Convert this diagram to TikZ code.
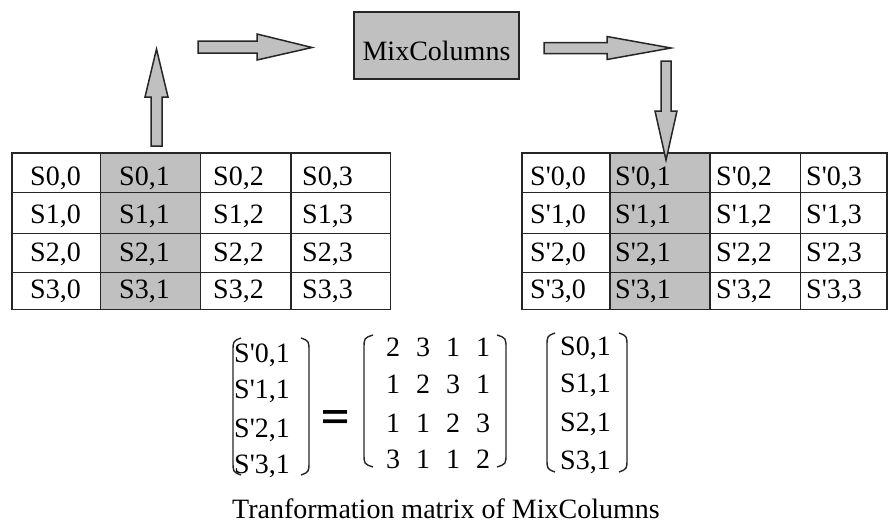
\documentclass[tikz,border=0pt]{standalone}
\usepackage{fontspec}
\setmainfont{Liberation Serif}
\newfontfamily\eqfont{Liberation Sans}
\definecolor{cellgray}{HTML}{C0C0C0}
\newcommand\ap{\textquotesingle}

\tikzset{
  txt/.style={font=\fontsize{28}{30}\selectfont, inner sep=0pt, anchor=base west},
  gridline/.style={line width=1.5pt, draw=black!85},
  blockarrow/.style={fill=cellgray, draw=black!85, line width=1.5pt, line join=miter},
  paren/.style={line width=1.4pt, draw=black!85},
}

\begin{document}
\begin{tikzpicture}[x=1pt, y=-1pt]
\useasboundingbox (0,0) rectangle (888,523);

% ---- state before MixColumns ----
\fill[cellgray] (100.7,153) rectangle (200.7,309.3);
\draw[gridline] (12,153) rectangle (390.7,309.3);
\foreach \xx in {100.7,200.7,291} \draw[gridline] (\xx,153) -- (\xx,309.3);
\foreach \yy in {192.7,233.3,272.7} \draw[gridline] (12,\yy) -- (390.7,\yy);
\foreach \r/\by in {0/185,1/223,2/261,3/298}
  \foreach \c/\tx in {0/30,1/119,2/213,3/302}
    \node[txt] (l\r\c) at (\tx,\by) {S\r,\c};

% ---- state after MixColumns ----
\fill[cellgray] (610,153) rectangle (710,309.3);
\draw[gridline] (522,153) rectangle (887,309.3);
\foreach \xx in {610,710,800.7} \draw[gridline] (\xx,153) -- (\xx,309.3);
\foreach \yy in {192.7,233.3,272.7} \draw[gridline] (522,\yy) -- (887,\yy);
\foreach \r/\by in {0/185,1/223,2/261,3/298}
  \foreach \c/\tx in {0/530,1/615,2/716,3/806}
    \node[txt] (r\r\c) at (\tx,\by) {S\ap\r,\c};

% ---- MixColumns box ----
\node[draw=black!85, fill=cellgray, line width=1.5pt, inner sep=0pt,
      minimum width=165pt, minimum height=67pt, text height=29pt, text depth=0pt,
      font=\fontsize{28}{30}\selectfont] (mix) at (436.5,45.5) {MixColumns};

% ---- block arrows ----
\draw[blockarrow] (151,146) -- (151,97) -- (145,97) -- (156.5,49) -- (168,97)
  -- (162,97) -- (162,146) -- cycle;
\draw[blockarrow] (198,41) -- (257,41) -- (257,34) -- (312,47.5) -- (257,60)
  -- (257,53) -- (198,53) -- cycle;
\draw[blockarrow] (544,42.5) -- (607,42.5) -- (607,36.5) -- (671,48) -- (607,59.5)
  -- (607,53.5) -- (544,53.5) -- cycle;
\draw[blockarrow] (661,61) -- (671,61) -- (671,111) -- (677,111) -- (666,160)
  -- (655,111) -- (661,111) -- cycle;

% ---- output column vector ----
\foreach \r/\by in {0/362,1/398,2/437,3/473}
  \node[txt] (v\r) at (234,\by) {S\ap\r,1};
\draw[paren] (241,338) .. controls (233,341) .. (233,352) -- (233,461) .. controls (233,472) .. (241,475);
\draw[paren] (301,338) .. controls (309,341) .. (309,352) -- (309,461) .. controls (309,472) .. (301,475);

% ---- equals sign ----
\node[inner sep=0pt, anchor=base, font=\eqfont\bfseries\fontsize{48}{48}\selectfont] (eq) at (335.5,428)
  {\scalebox{1}[0.72]{=}};

% ---- coefficient matrix ----
\foreach \r/\by/\ra/\rb/\rc/\rd in {0/356/2/3/1/1, 1/393/1/2/3/1, 2/432/1/1/2/3, 3/468/3/1/1/2} {
  \node[txt, anchor=base] (m\r0) at (393,\by) {\ra};
  \node[txt, anchor=base] (m\r1) at (423,\by) {\rb};
  \node[txt, anchor=base] (m\r2) at (453,\by) {\rc};
  \node[txt, anchor=base] (m\r3) at (483,\by) {\rd};
}
\draw[paren] (373,335) .. controls (364,338) .. (364,349) -- (364,453) .. controls (364,464) .. (373,467);
\draw[paren] (497,335) .. controls (506,338) .. (506,349) -- (506,453) .. controls (506,464) .. (497,467);

% ---- input column vector ----
\foreach \r/\by in {0/355,1/392,2/431,3/469}
  \node[txt] (u\r) at (560,\by) {S\r,1};
\draw[paren] (555,333) .. controls (547,336) .. (547,347) -- (547,458) .. controls (547,469) .. (555,472);
\draw[paren] (619,333) .. controls (627,336) .. (627,347) -- (627,458) .. controls (627,469) .. (619,472);

% ---- caption ----
\node[txt] (cap) at (232,518) {Tranformation matrix of MixColumns};
\end{tikzpicture}
\end{document}
